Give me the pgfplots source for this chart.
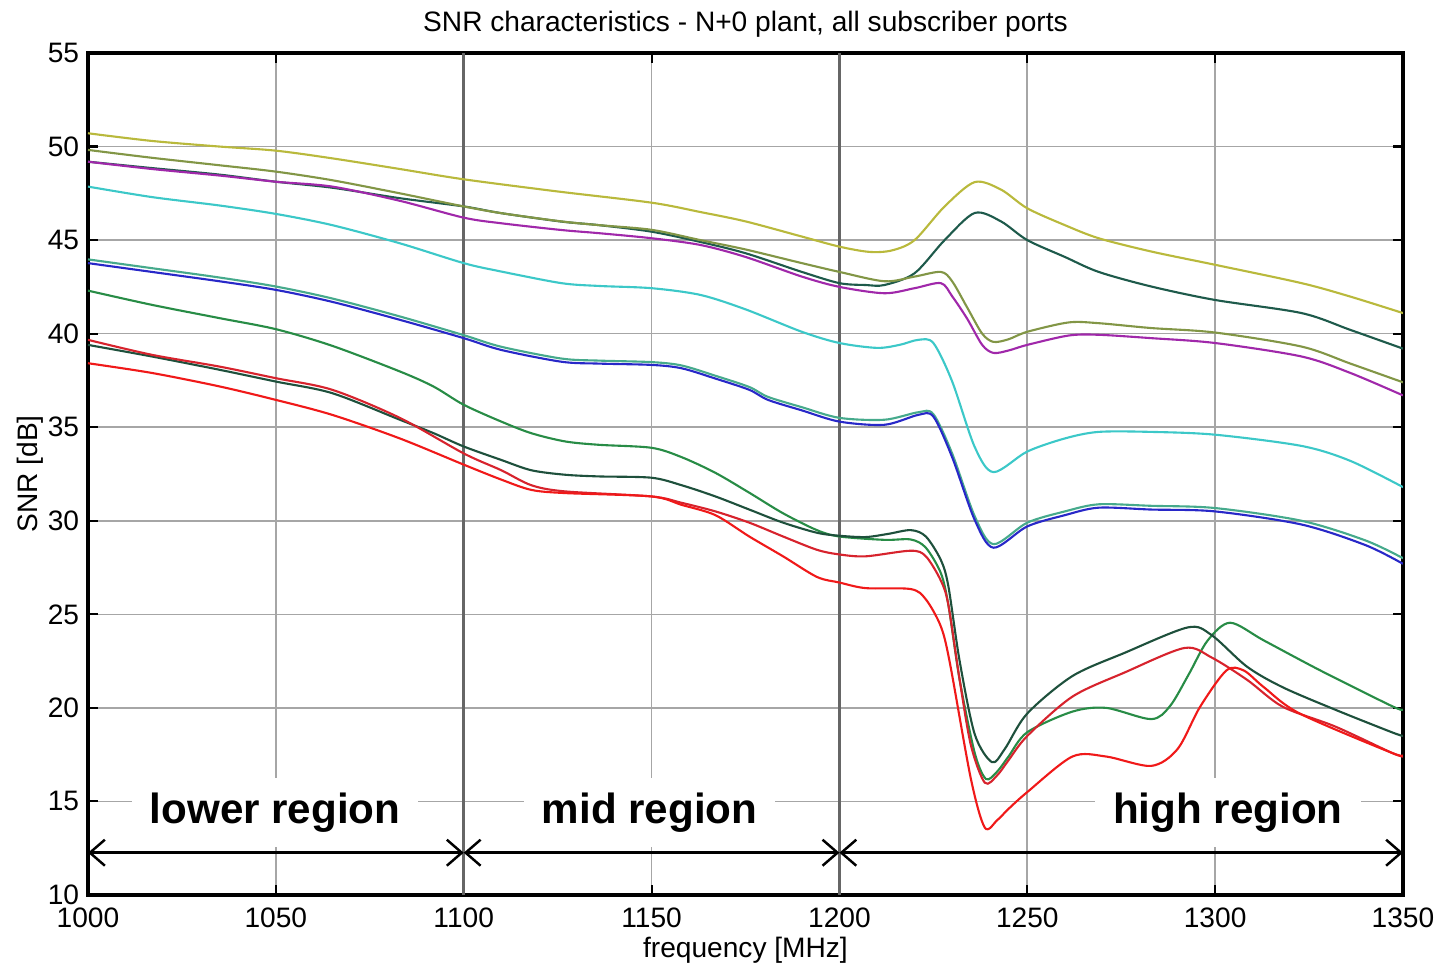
\documentclass[border=0pt]{standalone}
\usepackage{fontspec}
\setmainfont{Liberation Sans}
\usepackage{pgfplots}
\pgfplotsset{compat=1.18}
\usetikzlibrary{arrows.meta}

\definecolor{cYel}{RGB}{185,185,60}
\definecolor{cDTeal}{RGB}{30,90,75}
\definecolor{cOlive}{RGB}{130,150,70}
\definecolor{cPurp}{RGB}{160,40,170}
\definecolor{cCyan}{RGB}{60,200,200}
\definecolor{cTeal}{RGB}{70,170,140}
\definecolor{cBlue}{RGB}{40,40,200}
\definecolor{cGreen}{RGB}{40,140,70}
\definecolor{cDGreen}{RGB}{30,80,60}
\definecolor{cRed}{RGB}{215,35,45}
\definecolor{cRedB}{RGB}{240,25,25}

\tikzset{region/.style={fill=white, inner xsep=1.8mm, inner ysep=1.5mm,
  font=\fontsize{12}{14}\selectfont\bfseries},
  rarrow/.style={black, line width=0.7pt,
  {Straight Barb[length=1.5mm,width=2.6mm]}-{Straight Barb[length=1.5mm,width=2.6mm]}}}

\begin{document}
\begin{tikzpicture}
\begin{axis}[
  scale only axis, width=13.15cm, height=8.42cm,
  xmin=1000, xmax=1350, ymin=10, ymax=55,
  xtick={1000,1050,...,1350}, ytick={10,15,...,55},
  grid=major, grid style={gray!70, line width=0.45pt},
  tick align=inside, major tick length=1mm,
  axis line style={line width=0.9pt},
  tick style={black, line width=0.6pt},
  ticklabel style={font=\fontsize{8}{9}\selectfont},
  yticklabel style={xshift=1pt},
  /pgf/number format/assume math mode=true,
  /pgf/number format/1000 sep={},
  extra x ticks={1100,1200}, extra x tick labels={},
  extra x tick style={grid style={black!60, line width=1pt}, major tick length=0pt},
  title={SNR characteristics - N+0 plant, all subscriber ports},
  title style={font=\fontsize{8}{9}\selectfont, yshift=-5pt},
  xlabel={frequency [MHz]}, ylabel={SNR [dB]},
  label style={font=\fontsize{8}{9}\selectfont},
  xlabel style={yshift=4pt}, ylabel style={yshift=-5.5pt},
  every axis plot/.append style={line width=0.6pt, smooth, tension=0.5},
]
% region annotations
\node[region] at (axis cs:1049.8,14.4) {lower region};
\node[region] at (axis cs:1149.5,14.4) {mid region};
\node[region] at (axis cs:1303.4,14.4) {high region};
\addplot[rarrow, forget plot] coordinates {(1000,12.26) (1100,12.26)};
\addplot[rarrow, forget plot] coordinates {(1100,12.26) (1200,12.26)};
\addplot[rarrow, forget plot] coordinates {(1200,12.26) (1350,12.26)};

\addplot[cYel] coordinates {(1000,50.71) (1017,50.3) (1035,50.0) (1050,49.78) (1065,49.37) (1083,48.8) (1100,48.25) (1125,47.6) (1150,47.0) (1163,46.5) (1175,46.0) (1190,45.19) (1200,44.65) (1208,44.37) (1214,44.45) (1220,45.0) (1228,46.8) (1236,48.1) (1243,47.7) (1250,46.7) (1260,45.8) (1269,45.1) (1283,44.39) (1300,43.68) (1323,42.7) (1336,41.98) (1350,41.1)};
\addplot[cDTeal] coordinates {(1000,49.19) (1017,48.85) (1035,48.5) (1050,48.12) (1065,47.8) (1083,47.24) (1100,46.8) (1110,46.44) (1126,45.99) (1136,45.8) (1150,45.45) (1163,44.9) (1175,44.3) (1190,43.3) (1200,42.7) (1207,42.6) (1212,42.6) (1220,43.23) (1228,45.0) (1236,46.45) (1243,46.0) (1250,45.0) (1260,44.1) (1269,43.3) (1283,42.52) (1300,41.8) (1323,41.1) (1336,40.2) (1350,39.2)};
\addplot[cOlive] coordinates {(1000,49.82) (1017,49.4) (1035,49.0) (1050,48.66) (1065,48.2) (1083,47.5) (1100,46.8) (1110,46.44) (1126,46.0) (1136,45.8) (1150,45.55) (1163,45.0) (1175,44.5) (1190,43.77) (1200,43.3) (1212,42.8) (1220,43.05) (1227,43.3) (1230,42.8) (1234,41.4) (1238,40.0) (1241,39.56) (1245,39.7) (1250,40.1) (1261,40.6) (1269,40.56) (1283,40.3) (1300,40.06) (1323,39.31) (1336,38.4) (1350,37.4)};
\addplot[cPurp] coordinates {(1000,49.19) (1017,48.8) (1035,48.45) (1050,48.12) (1065,47.86) (1083,47.1) (1100,46.2) (1110,45.9) (1126,45.54) (1136,45.37) (1150,45.1) (1163,44.74) (1175,44.1) (1190,43.05) (1200,42.5) (1212,42.16) (1220,42.43) (1227,42.7) (1230,42.0) (1234,40.8) (1238,39.4) (1241,38.97) (1245,39.1) (1250,39.4) (1261,39.9) (1269,39.94) (1283,39.76) (1300,39.5) (1323,38.78) (1336,37.9) (1350,36.7)};
\addplot[cCyan] coordinates {(1000,47.86) (1017,47.3) (1035,46.85) (1050,46.4) (1065,45.8) (1083,44.83) (1100,43.77) (1110,43.32) (1126,42.7) (1136,42.55) (1150,42.43) (1163,42.07) (1175,41.3) (1190,40.1) (1200,39.5) (1210,39.24) (1216,39.4) (1221,39.67) (1225,39.5) (1230,37.45) (1236,33.95) (1241,32.6) (1250,33.7) (1260,34.4) (1269,34.75) (1283,34.75) (1300,34.6) (1323,34.0) (1336,33.2) (1350,31.8)};
\addplot[cTeal] coordinates {(1000,43.97) (1017,43.5) (1035,43.0) (1050,42.52) (1065,41.88) (1083,40.92) (1100,39.92) (1110,39.3) (1126,38.67) (1136,38.56) (1150,38.48) (1158,38.3) (1167,37.75) (1176,37.15) (1181,36.62) (1190,36.07) (1200,35.5) (1212,35.4) (1221,35.8) (1225,35.7) (1230,33.6) (1236,30.25) (1241,28.75) (1250,29.9) (1260,30.5) (1269,30.88) (1283,30.8) (1300,30.68) (1323,30.0) (1340,28.95) (1350,28.0)};
\addplot[cBlue] coordinates {(1000,43.77) (1017,43.3) (1035,42.8) (1050,42.34) (1065,41.7) (1083,40.74) (1100,39.76) (1110,39.13) (1126,38.5) (1136,38.4) (1150,38.33) (1158,38.15) (1167,37.6) (1176,37.0) (1181,36.46) (1190,35.9) (1200,35.3) (1212,35.13) (1221,35.66) (1225,35.57) (1230,33.4) (1236,30.05) (1241,28.56) (1250,29.7) (1260,30.3) (1269,30.7) (1283,30.6) (1300,30.5) (1323,29.8) (1340,28.7) (1350,27.7)};
\addplot[cGreen] coordinates {(1000,42.3) (1017,41.54) (1035,40.83) (1050,40.24) (1065,39.35) (1083,37.98) (1092,37.17) (1100,36.2) (1110,35.3) (1118,34.68) (1127,34.24) (1136,34.06) (1150,33.9) (1158,33.4) (1167,32.56) (1176,31.5) (1185,30.4) (1194,29.5) (1200,29.16) (1212,28.98) (1219,29.0) (1223,28.56) (1227,27.2) (1229,25.5) (1232,21.5) (1236,17.6) (1239,16.2) (1242,16.6) (1245,17.4) (1250,18.7) (1262,19.8) (1271,20.0) (1283,19.4) (1288,20.1) (1293,21.8) (1298,23.6) (1304,24.55) (1313,23.6) (1328,22.0) (1347,20.1) (1350,19.9)};
\addplot[cDGreen] coordinates {(1000,39.4) (1017,38.78) (1035,38.07) (1050,37.44) (1065,36.82) (1083,35.4) (1092,34.68) (1100,33.97) (1110,33.25) (1118,32.7) (1127,32.46) (1136,32.37) (1150,32.3) (1158,31.9) (1167,31.3) (1176,30.6) (1185,29.9) (1194,29.36) (1200,29.2) (1207,29.13) (1213,29.3) (1219,29.5) (1223,29.16) (1227,27.9) (1229,26.5) (1232,22.5) (1236,18.6) (1240.6,17.1) (1244,17.8) (1250,19.7) (1262,21.7) (1276,22.95) (1292.7,24.3) (1299,23.9) (1308.5,22.2) (1318,21.1) (1332,19.9) (1347,18.7) (1350,18.5)};
\addplot[cRed] coordinates {(1000,39.67) (1017,38.87) (1035,38.24) (1050,37.62) (1065,37.0) (1083,35.5) (1100,33.6) (1110,32.7) (1118,31.9) (1127,31.57) (1150,31.3) (1158,30.96) (1167,30.5) (1176,29.9) (1185,29.16) (1194,28.45) (1200,28.2) (1207,28.1) (1219,28.4) (1223,28.1) (1227,26.8) (1229,25.5) (1232,21.5) (1235,18.0) (1238.7,16.0) (1242,16.4) (1245,17.2) (1250,18.5) (1262,20.6) (1276,21.9) (1291.8,23.2) (1299,22.7) (1308.5,21.5) (1318,20.06) (1332,19.0) (1347,17.6) (1350,17.4)};
\addplot[cRedB] coordinates {(1000,38.42) (1017,37.9) (1035,37.18) (1050,36.46) (1065,35.66) (1083,34.4) (1100,33.0) (1110,32.2) (1118,31.65) (1127,31.48) (1150,31.3) (1158,30.85) (1167,30.3) (1176,29.16) (1185,28.1) (1194,27.0) (1200,26.7) (1207,26.4) (1219,26.35) (1223,25.8) (1227,24.35) (1229.4,22.4) (1235,16.2) (1238.7,13.6) (1242,14.0) (1245,14.6) (1250,15.5) (1262,17.4) (1271,17.4) (1283,16.9) (1290,17.8) (1296,20.06) (1303,22.0) (1307.6,22.0) (1313,21.1) (1322.5,19.7) (1347,17.6) (1350,17.5)};
\end{axis}
\pgfresetboundingbox
\path[use as bounding box] ([shift={(-0.88cm,-0.72cm)}]current axis.south west) rectangle ([shift={(0.37cm,0.53cm)}]current axis.north east);
\end{tikzpicture}
\end{document}
